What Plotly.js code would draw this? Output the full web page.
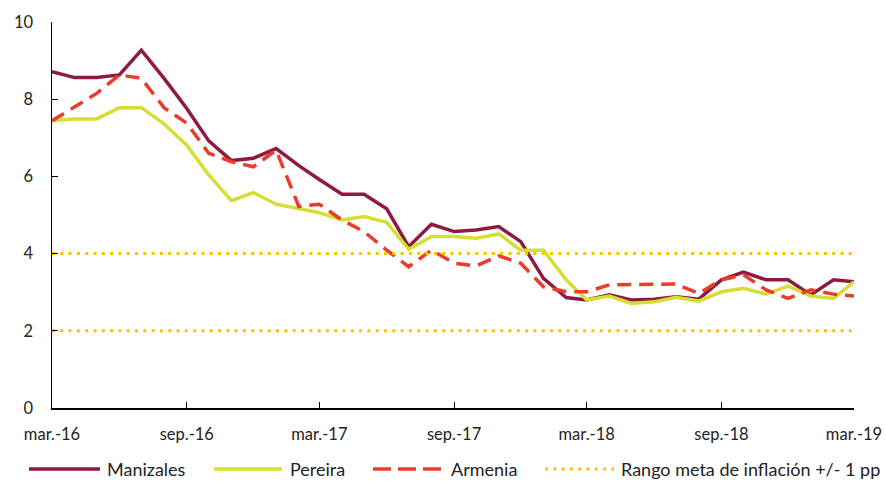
<!DOCTYPE html>
<html>
<head>
<meta charset="utf-8">
<script src="https://cdn.plot.ly/plotly-3.0.1.min.js"></script>
<style>html,body{margin:0;padding:0;background:#fff;}#chart{width:886px;height:481px;}</style>
</head>
<body>
<div id="chart"></div>
<script>
const months = [
 '2016-03-01','2016-04-01','2016-05-01','2016-06-01','2016-07-01','2016-08-01','2016-09-01','2016-10-01','2016-11-01','2016-12-01',
 '2017-01-01','2017-02-01','2017-03-01','2017-04-01','2017-05-01','2017-06-01','2017-07-01','2017-08-01','2017-09-01','2017-10-01','2017-11-01','2017-12-01',
 '2018-01-01','2018-02-01','2018-03-01','2018-04-01','2018-05-01','2018-06-01','2018-07-01','2018-08-01','2018-09-01','2018-10-01','2018-11-01','2018-12-01',
 '2019-01-01','2019-02-01','2019-03-01'];
const manizales = [8.71,8.56,8.56,8.63,9.27,8.54,7.76,6.92,6.41,6.47,6.72,6.28,5.92,5.54,5.54,5.16,4.18,4.76,4.57,4.61,4.70,4.31,3.36,2.86,2.80,2.93,2.80,2.82,2.88,2.82,3.32,3.52,3.32,3.32,2.93,3.32,3.27];
const pereira = [7.44,7.49,7.49,7.78,7.78,7.36,6.81,6.04,5.37,5.58,5.28,5.17,5.06,4.87,4.96,4.81,4.11,4.44,4.44,4.40,4.51,4.09,4.09,3.32,2.80,2.90,2.71,2.75,2.87,2.77,3.01,3.10,2.95,3.16,2.90,2.84,3.27];
const armenia = [7.44,7.81,8.15,8.63,8.54,7.78,7.38,6.60,6.38,6.25,6.68,5.22,5.28,4.87,4.57,4.09,3.66,4.09,3.75,3.68,3.94,3.75,3.14,3.01,3.01,3.19,3.19,3.21,3.21,2.97,3.32,3.45,3.06,2.84,3.06,2.95,2.90];
const targetUpper = 4;
const targetLower = 2;
const tickVals = ['2016-03-01','2016-09-01','2017-03-01','2017-09-01','2018-03-01','2018-09-01','2019-03-01'];
const tickText = ['mar.-16','sep.-16','mar.-17','sep.-17','mar.-18','sep.-18','mar.-19'];
const seriesNames = ['Manizales','Pereira','Armenia','Rango meta de inflación +/- 1 pp'];

const colors = ['#8E1B3E','#D4DE33','#EA3B2B','#FFC000'];
const dashes = ['solid','solid','14px,8px','3px,5.3px'];
const legDashes = ['solid','solid','18px,7px','3px,5.3px'];
const widths = [3.5,3.5,3.5,3];

const W = 886, H = 481, ML = 52, MR = 32, MT = 22, MB = 73;
const PW = W - ML - MR, PH = H - MT - MB;
const px2x = p => (p - ML) / PW;
const px2y = p => (H - MB - p) / PH;

const first = months[0], last = months[months.length-1];
const traces = [
 {x: months, y: manizales, name: seriesNames[0], mode:'lines', line:{color:colors[0], width:widths[0]}},
 {x: months, y: pereira, name: seriesNames[1], mode:'lines', line:{color:colors[1], width:widths[1]}},
 {x: months, y: armenia, name: seriesNames[2], mode:'lines', line:{color:colors[2], width:widths[2], dash:dashes[2]}},
 {x: [first,last,null,first,last], y:[targetUpper,targetUpper,null,targetLower,targetLower], name: seriesNames[3], mode:'lines', line:{color:colors[3], width:widths[3], dash:dashes[3]}}
];

const tickFnt = {family:'Lato, "Open Sans", sans-serif', size:16.5, color:'#222'};
const legFnt = {family:'Lato, "Open Sans", sans-serif', size:18, color:'#222'};

// manual legend (symbol spans and text starts in px)
const legItems = [
 {idx:0, x0:29, x1:100, tx:105},
 {idx:1, x0:214, x1:282, tx:288},
 {idx:2, x0:373, x1:441, tx:449},
 {idx:3, x0:545, x1:614, tx:619}
];
const legY = 469;
const shapes = legItems.map(it => ({type:'line', xref:'paper', yref:'paper',
  x0:px2x(it.x0), x1:px2x(it.x1), y0:px2y(legY), y1:px2y(legY),
  line:{color:colors[it.idx], width:widths[it.idx], dash:legDashes[it.idx]}}));
const annotations = legItems.map(it => ({xref:'paper', yref:'paper', x:px2x(it.tx), y:px2y(legY),
  xanchor:'left', yanchor:'middle', text:seriesNames[it.idx], showarrow:false, font:legFnt}));

const layout = {
 width:W, height:H,
 margin:{l:ML, r:MR, t:MT, b:MB, autoexpand:false},
 paper_bgcolor:'#fff', plot_bgcolor:'#fff',
 font: tickFnt,
 showlegend:false,
 shapes: shapes,
 annotations: annotations,
 xaxis:{type:'date', range:[first,last], tickvals:tickVals, ticktext:tickText, showgrid:false, zeroline:false,
   showline:true, linecolor:'#000', linewidth:1.5, ticks:'inside', ticklen:6, tickcolor:'#000', tickwidth:1.2, ticklabelstandoff:11, tickfont:tickFnt},
 yaxis:{range:[0,10], tickvals:[0,2,4,6,8,10], showgrid:false, zeroline:false,
   showline:true, linecolor:'#000', linewidth:1.5, ticks:'inside', ticklen:6, tickcolor:'#000', tickwidth:1.2, ticklabelstandoff:14, tickfont:tickFnt}
};
Plotly.newPlot('chart', traces, layout, {displayModeBar:false, staticPlot:true});
</script>
</body>
</html>
